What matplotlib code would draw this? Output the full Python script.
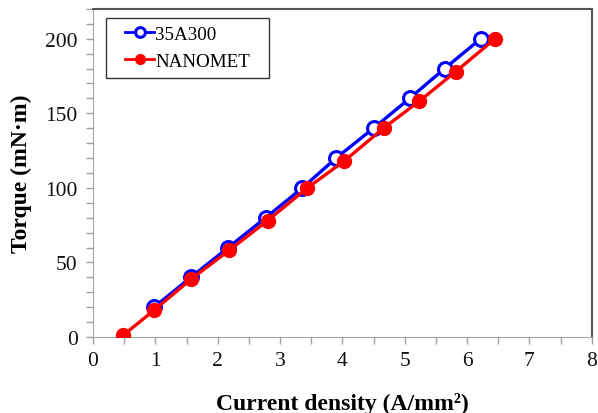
import matplotlib
matplotlib.use('Agg')
import matplotlib.pyplot as plt
from matplotlib.path import Path
from matplotlib.ticker import MultipleLocator

# Data
x_35a300 = [0.98, 1.57, 2.17, 2.77, 3.36, 3.90, 4.50, 5.08, 5.64, 6.22]
t_35a300 = [20, 40, 60, 80, 100, 120, 140, 160, 180, 200]
x_nanomet = [0.48, 0.98, 1.58, 2.18, 2.80, 3.44, 4.03, 4.66, 5.23, 5.82, 6.45]
t_nanomet = [1, 18, 39, 58, 78, 100, 118, 140, 158, 178, 200]

plt.rcParams['font.family'] = ['Liberation Serif', 'DejaVu Serif']

fig = plt.figure(figsize=(5.98, 4.14), dpi=100)
ax = fig.add_axes([0.1555, 0.1836, 0.834, 0.7925])

ax.plot(x_35a300, t_35a300, color='#0000ff', lw=2.4, marker='o', ms=10,
        mfc='white', mec='#0000ff', mew=2.2, label='35A300', zorder=3)
ax.plot(x_nanomet, t_nanomet, color='#ff0000', lw=2.4, marker='o', ms=10,
        mfc='#ff0000', mec='#ff0000', label='NANOMET', zorder=4)

ax.set_xlim(0, 8)
ax.set_ylim(0, 220)
ax.set_yticks([0, 50, 100, 150, 200])
ax.xaxis.set_major_locator(MultipleLocator(1))
ax.xaxis.set_minor_locator(MultipleLocator(0.5))
ax.yaxis.set_minor_locator(MultipleLocator(10))
ax.tick_params(which='both', direction='out', colors='#a0a0a0', labelcolor='#111111',
               labelsize=15.5, length=5, width=1)
ax.tick_params(axis='y', pad=6)
ax.tick_params(axis='x', pad=5)

for s in ['left', 'bottom']:
    ax.spines[s].set_color('#a8a8a8')
for s in ['top', 'right']:
    ax.spines[s].set_color('#555555')
    ax.spines[s].set_linewidth(1.5)

ax.set_xlabel('Current density (A/mm²)', fontsize=17, fontweight='bold')
ax.set_ylabel('Torque (mN·m)', fontsize=17, fontweight='bold')
ax.xaxis.set_label_coords(0.5, -0.168)
ax.yaxis.set_label_coords(-0.123, 0.5)


# legend frame: wider padding left/right than top/bottom
def wide_box(x0, y0, width, height, mutation_size):
    px = 11
    x0, x1 = x0 - px, x0 + width + px
    y1 = y0 + height
    return Path([(x0, y0), (x1, y0), (x1, y1), (x0, y1), (x0, y0)], closed=True)


leg = ax.legend(loc='upper left', bbox_to_anchor=(0.048, 0.973), fontsize=13.7,
                frameon=True, fancybox=False, edgecolor='black', handlelength=1.55,
                borderpad=0.42, labelspacing=0.48, handletextpad=0.05,
                borderaxespad=0, markerscale=0.7)
leg.get_frame().set_boxstyle(wide_box)
leg.get_frame().set_linewidth(1.0)
for h in leg.get_lines():
    h.set_linewidth(2.0)

fig.savefig('out.png', dpi=100)
